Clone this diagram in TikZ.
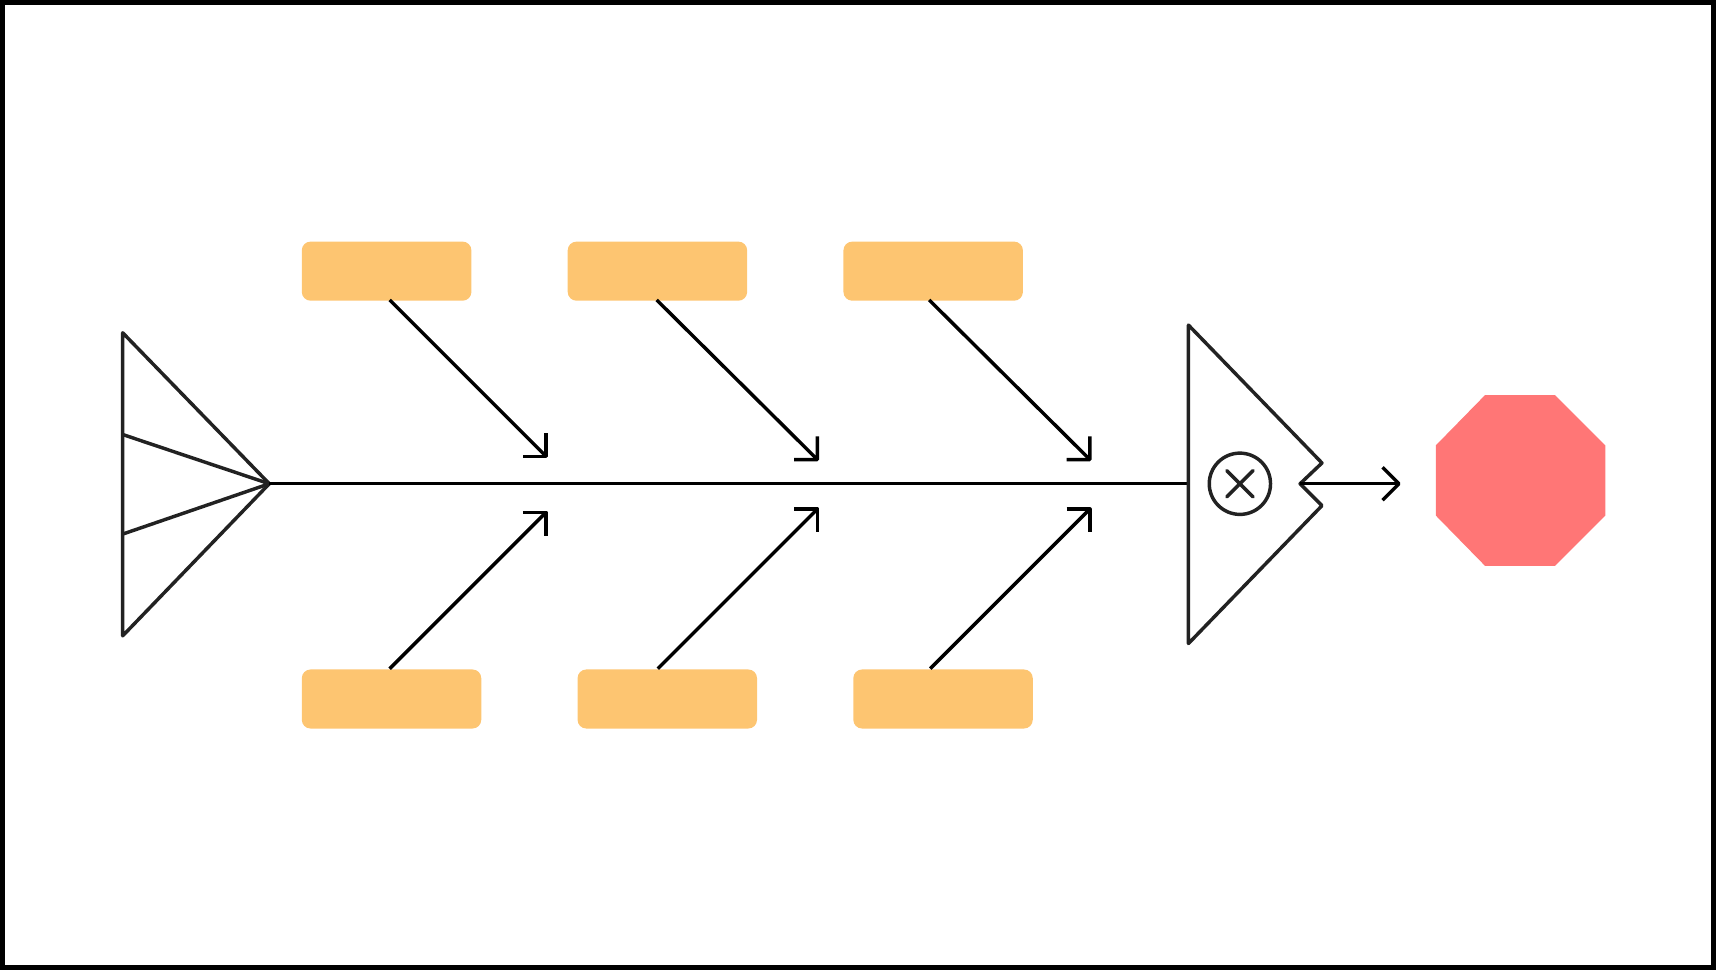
\documentclass[tikz,border=0pt]{standalone}
\usepackage{tikz}
\usetikzlibrary{positioning}
\usetikzlibrary{calc}
\usetikzlibrary{arrows.meta}
\definecolor{causeorange}{HTML}{FDC571}
\definecolor{effectred}{HTML}{FF7676}
\definecolor{outline}{HTML}{222222}
\tikzstyle{cause}=[rectangle, rounded corners=0.8mm, fill=causeorange, anchor=north west, inner sep=0pt]
\tikzstyle{bone}=[line width=0.9pt, -{Straight Barb[length=1.5mm,width=3mm,line join=round]}]
\tikzstyle{fishline}=[draw=outline, line width=0.9pt, line join=round]
\tikzstyle{border}=[draw, line width=1.2pt]

\begin{document}
\begin{tikzpicture}[x=0.1mm, y=-0.1mm]
      \path[border] (2,2) rectangle (1566,884);

      % causes
      \node[cause, minimum width=15.5mm, minimum height=5.4mm] (top1) at (275,220) {};
      \node[cause, minimum width=16.4mm, minimum height=5.4mm] (top2) at (518,220) {};
      \node[cause, minimum width=16.4mm, minimum height=5.4mm] (top3) at (770,220) {};
      \node[cause, minimum width=16.4mm, minimum height=5.4mm] (bot1) at (275,611) {};
      \node[cause, minimum width=16.4mm, minimum height=5.4mm] (bot2) at (527,611) {};
      \node[cause, minimum width=16.4mm, minimum height=5.4mm] (bot3) at (779,611) {};

      \coordinate (tip1) at (500,418);
      \coordinate (tip2) at (748,421);
      \coordinate (tip3) at (997,421);
      \coordinate (tip4) at (500,467);
      \coordinate (tip5) at (748,464);
      \coordinate (tip6) at (997,464);

      \draw[bone] (356,274) -- (tip1);
      \draw[bone] (600,274) -- (tip2);
      \draw[bone] (849,274) -- (tip3);
      \draw[bone] (356,611) -- (tip4);
      \draw[bone] (601,611) -- (tip5);
      \draw[bone] (850,611) -- (tip6);

      % tail and head
      \coordinate (tail) at (246,442);
      \coordinate (head) at (1086,442);
      \draw[fishline] (112,304) -- (tail) -- (112,581) -- cycle;
      \draw[fishline] (112,397) -- (tail) -- (112,488);
      \draw[line width=0.9pt] (tail) -- (head);
      \draw[fishline] (1086,297) -- (1208,423) -- (1188,442) -- (1208,462) -- (1086,588) -- cycle;
      \node[circle, draw=outline, line width=0.9pt, minimum size=5.6mm] (merge) at (1133,442) {};
      \draw[fishline, line cap=round] (1121,430) -- (1145,454) (1145,430) -- (1121,454);

      % effect
      \fill[effectred] (1357,361) -- (1421,361) -- (1467,407) -- (1467,471) -- (1421,517) -- (1357,517) -- (1312,471) -- (1312,407) -- cycle;
      \coordinate (effect) at (1280,442);
      \draw[bone] (1188,442) -- (effect);
\end{tikzpicture}
\end{document}
